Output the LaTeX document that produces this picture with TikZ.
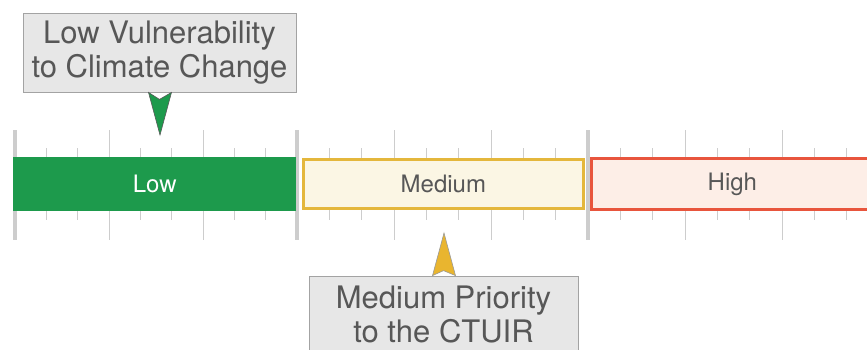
\documentclass[tikz,border=0pt]{standalone}
\usepackage{fontspec}
\setmainfont{TeX Gyre Heros}
\usetikzlibrary{calc}

\definecolor{lowgreen}{HTML}{1D9A4C}
\definecolor{medline}{HTML}{E4B73C}
\definecolor{medfill}{HTML}{FBF6E4}
\definecolor{highline}{HTML}{E8553D}
\definecolor{highfill}{HTML}{FDEEE7}
\definecolor{tickgray}{HTML}{CDCDCD}
\definecolor{callfill}{HTML}{E7E7E7}
\definecolor{callline}{HTML}{A3A3A3}
\definecolor{labelgray}{HTML}{575757}
\definecolor{medpoint}{HTML}{E9B52F}

\tikzset{
  bar/.style={rectangle, anchor=west, inner sep=0pt,
    font=\fontsize{24}{24}\selectfont},
  lowbar/.style={bar, fill=lowgreen, text=white,
    minimum width=283pt, minimum height=54pt},
  medbar/.style={bar, fill=medfill, draw=medline, line width=2.8pt,
    text=labelgray, minimum width=280pt, minimum height=49pt},
  highbar/.style={bar, fill=highfill, draw=highline, line width=2.8pt,
    text=labelgray, minimum width=282pt, minimum height=51pt},
  callout/.style={rectangle, fill=callfill, draw=callline, line width=0.8pt,
    align=center, inner sep=0pt, text=labelgray,
    font=\fontsize{31}{34}\selectfont},
  bigtick/.style={draw=tickgray, line width=4pt},
  midtick/.style={draw=tickgray, line width=1pt},
  smalltick/.style={draw=tickgray, line width=0.9pt}
}

\begin{document}
\begin{tikzpicture}[x=1pt, y=-1pt]
        \useasboundingbox (0,0) rectangle (867,349);
        \clip (0,0) rectangle (867,349);

        %ticks of the scale
        \foreach \s/\w in {15/282, 297/291, 588/291}{
          \draw[bigtick] (\s,130) -- (\s,240);
          \foreach \i in {3,6}
            \draw[midtick] ({\s+\i*\w/9},130) -- ({\s+\i*\w/9},240);
          \foreach \i in {1,2,4,5,7,8}
            \draw[smalltick] ({\s+\i*\w/9},148) -- ({\s+\i*\w/9},220);
        }

        %bars
        \node[lowbar](low) at (13,184){Low};
        \node[medbar](medium) at (302,184){Medium};
        \node[highbar](high) at (590,184){High};

        %upper callout
        \node[callout, minimum width=273pt, minimum height=79pt](lowcall)
          at (159.5,52.5){Low Vulnerability\\to Climate Change};
        \coordinate (lowtip) at (160,135);
        \filldraw[fill=lowgreen, draw=gray!70!black, line width=0.6pt]
          ($(lowcall.south)+(-11,0)$) -- (lowtip)
          -- ($(lowcall.south)+(12,0)$) -- ($(lowcall.south)+(0,7)$) -- cycle;

        %lower callout
        \node[callout, minimum width=269pt, minimum height=76pt](medcall)
          at (443.5,314){Medium Priority\\to the CTUIR};
        \coordinate (medtip) at (444,233);
        \filldraw[fill=medpoint, draw=gray!80, line width=0.6pt]
          ($(medcall.north)+(-11,0)$) -- (medtip)
          -- ($(medcall.north)+(12,0)$) -- ($(medcall.north)+(0,-5)$) -- cycle;
\end{tikzpicture}
\end{document}
